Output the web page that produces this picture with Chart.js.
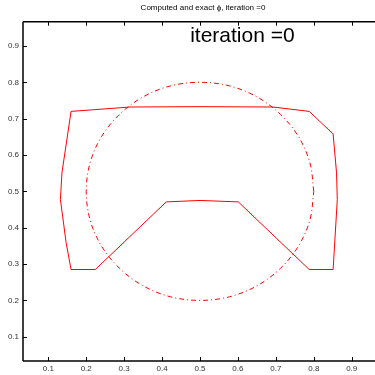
<!DOCTYPE html>
<html>
<head>
<meta charset="utf-8">
<script src="https://cdn.jsdelivr.net/npm/chart.js@4.4.0/dist/chart.umd.min.js"></script>
<style>
  html, body { margin: 0; padding: 0; background: #fff; overflow: hidden; }
  #wrap { width: 380px; height: 375px; }
</style>
</head>
<body>
<div id="wrap"><canvas id="c" width="380" height="375"></canvas></div>
<script>
// ---- data ----
const titleText = 'Computed and exact \u03d5, iteration =0';
const noteText = 'iteration =0';
const notePos = [0.474, 0.911];
const xRange = [0.0333, 0.9667];
const yRange = [0.0333, 0.9667];
const xTicks = [0.1, 0.2, 0.3, 0.4, 0.5, 0.6, 0.7, 0.8, 0.9];
const yTicks = [0.1, 0.2, 0.3, 0.4, 0.5, 0.6, 0.7, 0.8, 0.9];

// computed contour (solid)
const compX = [0.160, 0.316, 0.500, 0.692, 0.788, 0.851, 0.860, 0.862, 0.851, 0.788, 0.601, 0.500, 0.411, 0.224, 0.160, 0.147, 0.132, 0.136, 0.160];
const compY = [0.720, 0.732, 0.733, 0.732, 0.720, 0.658, 0.551, 0.477, 0.285, 0.285, 0.471, 0.475, 0.471, 0.285, 0.285, 0.359, 0.477, 0.551, 0.720];

// exact contour (dash-dot circle)
const exactX = [0.800, 0.790, 0.760, 0.712, 0.650, 0.578, 0.500, 0.422, 0.350, 0.288, 0.240, 0.210, 0.200, 0.210, 0.240, 0.288, 0.350, 0.422, 0.500, 0.578, 0.650, 0.712, 0.760, 0.790, 0.800];
const exactY = [0.500, 0.578, 0.650, 0.712, 0.760, 0.790, 0.800, 0.790, 0.760, 0.712, 0.650, 0.578, 0.500, 0.422, 0.350, 0.288, 0.240, 0.210, 0.200, 0.210, 0.240, 0.288, 0.350, 0.422, 0.500];

const toPts = (xs, ys) => xs.map((x, i) => ({x: x, y: ys[i]}));

const frame = {
  id: 'frame',
  afterDraw(chart) {
    const ctx = chart.ctx;
    const a = chart.chartArea;
    const xs = chart.scales.x, ys = chart.scales.y;
    ctx.save();
    ctx.strokeStyle = '#000';
    ctx.lineWidth = 1.5;
    ctx.beginPath();
    ctx.moveTo(a.left, a.top); ctx.lineTo(a.right, a.top);
    ctx.moveTo(a.left, a.bottom); ctx.lineTo(a.right, a.bottom);
    ctx.moveTo(a.left, a.top); ctx.lineTo(a.left, a.bottom);
    ctx.stroke();
    ctx.lineWidth = 1;
    ctx.beginPath();
    xTicks.forEach(v => {
      const p = Math.round(xs.getPixelForValue(v)) + 0.5;
      ctx.moveTo(p, a.bottom); ctx.lineTo(p, a.bottom - 4);
      ctx.moveTo(p, a.top); ctx.lineTo(p, a.top + 4);
    });
    yTicks.forEach(v => {
      const p = Math.round(ys.getPixelForValue(v)) + 0.5;
      ctx.moveTo(a.left, p); ctx.lineTo(a.left + 4, p);
    });
    ctx.stroke();
    // title
    ctx.fillStyle = '#000';
    ctx.font = '8px "Liberation Sans", Arial, sans-serif';
    ctx.textAlign = 'center';
    ctx.textBaseline = 'middle';
    ctx.fillText(titleText, (a.left + a.right) / 2 + 3, 8);
    // big annotation
    ctx.font = '21px "Liberation Sans", Arial, sans-serif';
    ctx.textAlign = 'left';
    ctx.textBaseline = 'alphabetic';
    ctx.fillText(noteText, xs.getPixelForValue(notePos[0]), ys.getPixelForValue(notePos[1]));
    ctx.restore();
  }
};

new Chart(document.getElementById('c'), {
  type: 'scatter',
  data: {
    datasets: [
      {
        data: toPts(compX, compY),
        showLine: true,
        borderColor: '#ff0000',
        borderWidth: 1,
        pointRadius: 0,
        tension: 0,
        fill: false
      },
      {
        data: toPts(exactX, exactY),
        showLine: true,
        borderColor: '#ff0000',
        borderWidth: 1,
        borderDash: [5, 3, 1, 3],
        pointRadius: 0,
        tension: 0.34,
        fill: false
      }
    ]
  },
  options: {
    responsive: false,
    animation: false,
    events: [],
    layout: { padding: { top: 21.7, right: 3, left: 0, bottom: 0 } },
    plugins: { legend: { display: false }, tooltip: { enabled: false }, title: { display: false } },
    scales: {
      x: {
        type: 'linear',
        min: xRange[0], max: xRange[1],
        grid: { display: false, drawTicks: false },
        border: { display: false },
        afterBuildTicks: s => { s.ticks = xTicks.map(v => ({value: v})); },
        afterFit: s => { s.height = 14; },
        ticks: {
          padding: 3,
          maxRotation: 0,
          autoSkip: false,
          color: '#333',
          font: { family: '"Liberation Sans", Arial, sans-serif', size: 8 },
          callback: v => v.toFixed(1)
        }
      },
      y: {
        type: 'linear',
        min: yRange[0], max: yRange[1],
        grid: { display: false, drawTicks: false },
        border: { display: false },
        afterBuildTicks: s => { s.ticks = yTicks.map(v => ({value: v})); },
        afterFit: s => { s.width = 23; },
        ticks: {
          padding: 4,
          autoSkip: false,
          color: '#333',
          font: { family: '"Liberation Sans", Arial, sans-serif', size: 8 },
          callback: v => v.toFixed(1)
        }
      }
    }
  },
  plugins: [frame]
});
</script>
</body>
</html>
